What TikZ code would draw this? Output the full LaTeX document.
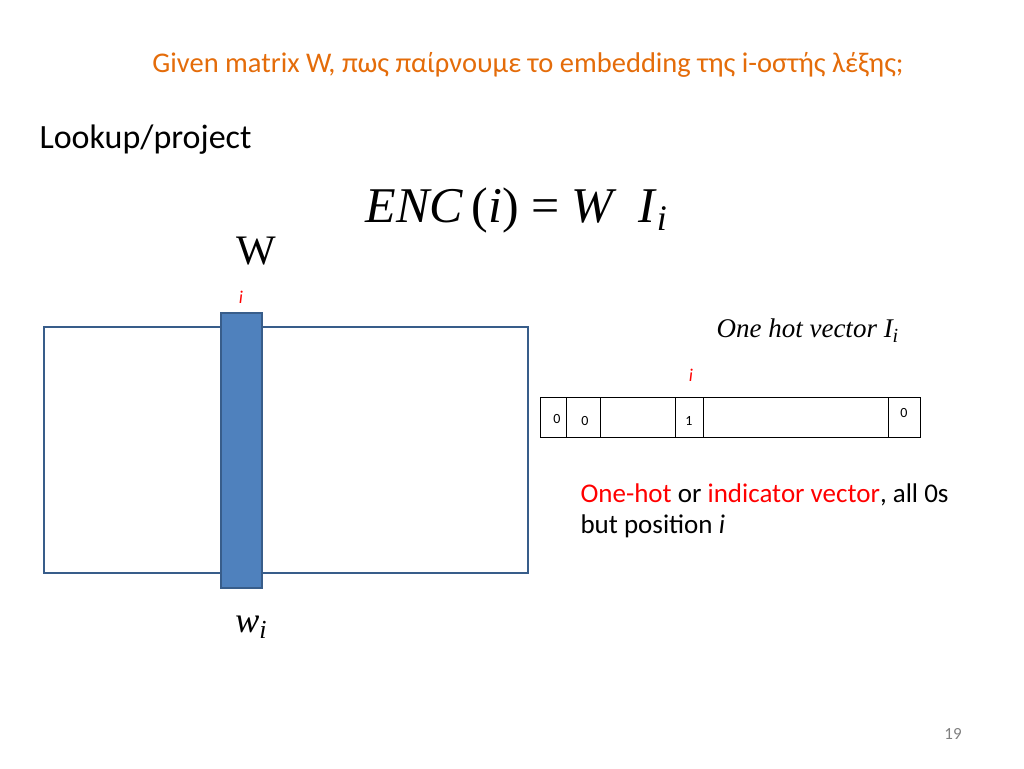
\documentclass[tikz,border=0pt]{standalone}
\usepackage{fontspec}
\setmainfont{Carlito}
\newfontfamily\mathf{Liberation Serif}
\definecolor{ttl}{HTML}{E46C0A}
\definecolor{bdr}{HTML}{385D8A}
\definecolor{barf}{HTML}{4F81BD}
\definecolor{red1}{HTML}{FF0000}
\tikzset{cell/.style={draw=black,line width=0.8pt},
 lbl/.style={inner sep=0pt,font=\fontsize{14}{16}\selectfont}}
\begin{document}
\begin{tikzpicture}[x=1pt,y=-1pt]
\useasboundingbox (0,0) rectangle (1024,768);
\node[text=ttl,font=\fontsize{28.5}{32}\selectfont] (title) at (528,65) {Given matrix W, πως παίρνουμε το embedding της i-οστής λέξης;};
\node[anchor=west,font=\fontsize{34}{38}\selectfont] (lk) at (36,140) {Lookup/project};
\node[anchor=west,font=\mathf\fontsize{50}{54}\selectfont] (eq) at (362,210) {\textit{ENC}\,(\textit{i}) = \textit{W}\, \textit{I}\raisebox{-8pt}{\fontsize{36}{38}\selectfont\textit{i}}};
\node[font=\mathf\fontsize{42}{46}\selectfont] (W) at (256,251) {W};
\node[text=red1,font=\fontsize{18}{20}\selectfont\itshape] (ri) at (241,297) {i};
\draw[bdr,line width=2pt] (44,327) rectangle (528,573);
\draw[bdr,fill=barf,line width=1.5pt] (221,313) rectangle (262,588);
\node[font=\mathf\fontsize{36}{40}\selectfont\itshape] (wi) at (251,627) {w\raisebox{-6pt}{\fontsize{26}{28}\selectfont i}};
\node[anchor=west,font=\mathf\fontsize{27}{30}\selectfont\itshape] (oh) at (713,331) {One hot vector I\raisebox{-5pt}{\fontsize{20}{22}\selectfont i}};
\node[text=red1,font=\fontsize{18}{20}\selectfont\itshape] (ri2) at (691,375) {i};
\draw[cell] (540,397) rectangle (920,437);
\foreach \x in {566,600,675,703,888} \draw[cell] (\x,397) -- (\x,437);
\node[lbl] (c1) at (557,419) {0};
\node[lbl] (c2) at (585,421) {0};
\node[lbl] (c3) at (689,421) {1};
\node[lbl] (c4) at (904,413) {0};
\node[anchor=west,align=left,font=\fontsize{27}{31}\selectfont] (desc) at (577,511) {\textcolor{red1}{One-hot} or \textcolor{red1}{indicator vector}, all 0s\\but position \textit{i}};
\node[text=gray,font=\fontsize{17}{20}\selectfont] (pg) at (953,734) {19};
\end{tikzpicture}
\end{document}
